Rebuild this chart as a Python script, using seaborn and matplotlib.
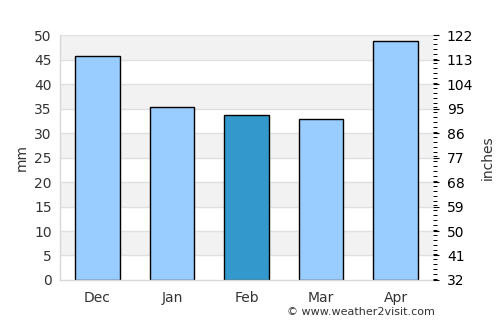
import matplotlib
matplotlib.use("Agg")
import matplotlib.pyplot as plt
import seaborn as sns
import numpy as np
from matplotlib.ticker import MultipleLocator

months = ["Dec", "Jan", "Feb", "Mar", "Apr"]
rain_mm = [45.7, 35.4, 33.6, 32.8, 48.8]
bar_colors = ["#99ccff", "#99ccff", "#3399cc", "#99ccff", "#99ccff"]
left_ticks = [0, 5, 10, 15, 20, 25, 30, 35, 40, 45, 50]
right_ticks = [32, 41, 50, 59, 68, 77, 86, 95, 104, 113, 122]

sns.set_style("white")
plt.rcParams['font.family'] = ['DejaVu Sans']

fig = plt.figure(figsize=(5, 3.25), dpi=100)
ax = fig.add_axes([0.12, 0.1385, 0.746, 0.7535])

# alternating bands
for i in range(len(left_ticks) - 1):
    if i % 2 == 1:
        ax.axhspan(left_ticks[i], left_ticks[i + 1], color="#f2f2f2", zorder=0, lw=0)
for t in left_ticks[1:]:
    ax.axhline(t, color="#e0e0e0", lw=1, zorder=0.5)

sns.barplot(x=months, y=rain_mm, hue=months, palette=bar_colors, legend=False,
            width=0.6, edgecolor="black", linewidth=1, saturation=1, ax=ax, zorder=2)

ax.set_xlim(-0.5, 4.5)
ax.set_ylim(0, 50)
ax.set_yticks(left_ticks)
ax.set_ylabel("mm", color="#333333", fontsize=10)
ax.tick_params(axis="both", colors="#333333", labelsize=10, length=0, pad=6)
for lbl in ax.get_yticklabels():
    lbl.set_color("#333333")
for lbl in ax.get_xticklabels():
    lbl.set_color("#333333")
ax.tick_params(axis="x", pad=8)
for s in ["top", "right"]:
    ax.spines[s].set_visible(False)
for s in ["left", "bottom"]:
    ax.spines[s].set_color("#d8d8d8")
    ax.spines[s].set_linewidth(1)

ax2 = ax.twinx()
ax2.set_ylim(32, 122)
ax2.set_yticks(right_ticks)
ax2.yaxis.set_minor_locator(MultipleLocator(1.8))
ax2.tick_params(axis="y", which="major", length=4, width=0.8, colors="black", labelsize=10, pad=6)
ax2.tick_params(axis="y", which="minor", length=3, width=0.7, colors="black")
for s in ["top", "right", "left", "bottom"]:
    ax2.spines[s].set_visible(False)
ax2.set_ylabel("inches", color="#333333", fontsize=10, labelpad=5)

fig.text(0.87, 0.025, "© www.weather2visit.com", ha="right", va="bottom",
         fontsize=8, color="#333333")

fig.savefig("out.png", dpi=100)
